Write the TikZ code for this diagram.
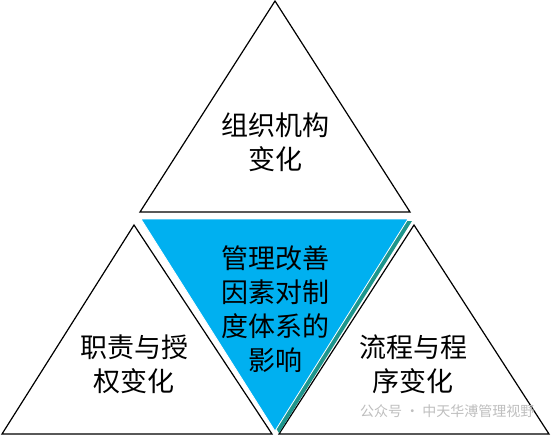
\documentclass[tikz,border=0pt]{standalone}
\usepackage{fontspec}
\setmainfont{Noto Sans CJK SC}
\usetikzlibrary{positioning, calc}
\definecolor{coreblue}{RGB}{0, 176, 240}
\definecolor{coreshade}{RGB}{30, 150, 140}
\definecolor{markgray}{RGB}{190, 190, 190}

\begin{document}
\begin{tikzpicture}[x=1pt, y=-1pt,
    tri/.style={draw=black, line width=1.2pt, fill=white, line join=miter},
    core/.style={fill=coreblue, draw=white, line width=0.8pt},
    shade/.style={fill=coreshade},
    cjktext/.style={font=\fontsize{27}{34}\selectfont, align=center, text=black},
    wmtext/.style={font=\fontsize{14}{16}\selectfont, text=markgray}]
    \useasboundingbox (0,0) rectangle (551,436);

    % Corners
    \coordinate (topA) at (275,1);
    \coordinate (topL) at (140,212);
    \coordinate (topR) at (410,212);
    \coordinate (leftA) at (134,225);
    \coordinate (leftL) at (2,434);
    \coordinate (leftR) at (272,434);
    \coordinate (rightA) at (414,225);
    \coordinate (rightL) at (279,434);
    \coordinate (rightR) at (549,434);
    \coordinate (coreL) at (141,219);
    \coordinate (coreR) at (408,219);
    \coordinate (coreB) at (275,431);

    % Outer triangles
    \draw[tri] (topA) -- (topL) -- (topR) -- cycle;
    \draw[tri] (leftA) -- (leftL) -- (leftR) -- cycle;
    \draw[tri] (rightA) -- (rightL) -- (rightR) -- cycle;

    % Centre triangle
    \fill[shade] ($(coreL)+(4,2)$) -- ($(coreR)+(4,2)$) -- ($(coreB)+(4,2)$) -- cycle;
    \filldraw[core] (coreL) -- (coreR) -- (coreB) -- cycle;

    % Labels
    \node[cjktext] (org) at (275,142) {组织机构\\变化};
    \node[cjktext] (core) at (275,309) {管理改善\\因素对制\\度体系的\\影响};
    \node[cjktext] (duty) at (134,364) {职责与授\\权变化};
    \node[cjktext] (flow) at (413,364) {流程与程\\序变化};

    % Watermark
    \node[wmtext, anchor=east] (wm) at (538,411) {公众号 · 中天华溥管理视野};
\end{tikzpicture}
\end{document}
